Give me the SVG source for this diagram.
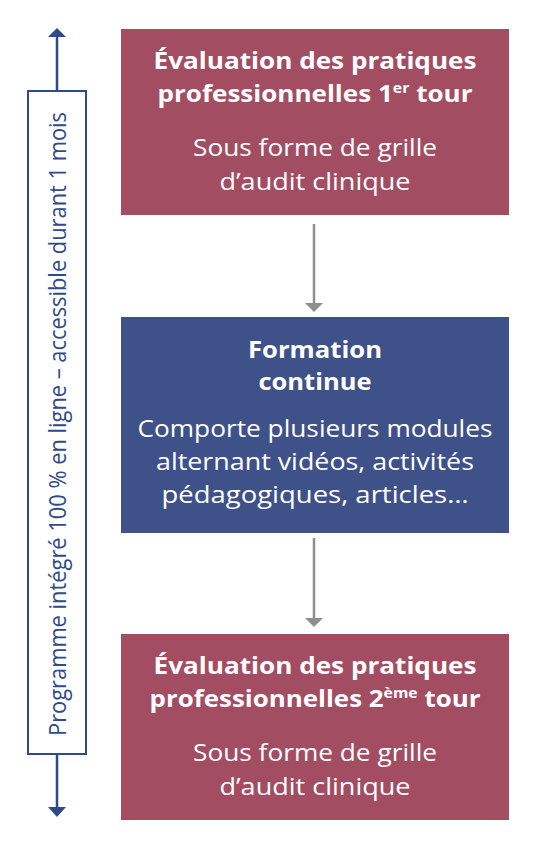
<svg xmlns="http://www.w3.org/2000/svg" width="552" height="868" viewBox="0 0 552 868">
<style>
.maroon{fill:#a34d63}
.blue{fill:#3f5189}
.t{font-family:"Open Sans","Noto Sans","Liberation Sans",sans-serif;fill:#ffffff;text-anchor:middle}
.b{font-weight:700;font-size:23px}
.r{font-weight:400;font-size:24px}
.sup{font-size:14px}
.side{font-family:"Open Sans","Noto Sans","Liberation Sans",sans-serif;font-size:23px;fill:#2f4b8b;text-anchor:middle}
.conn{stroke:#8e8e8e;stroke-width:2.5;fill:none}
.head{fill:#8e8e8e}
.frame{stroke:#2e4a8b;stroke-width:2;fill:#ffffff}
.bl{stroke:#2e4a8b;stroke-width:2.5;fill:none}
.bh{fill:#2e4a8b}
</style>
<g id="side-frame">
<line class="bl" x1="57" y1="91" x2="57" y2="37"/>
<path class="bh" d="M48,37 L66,37 L57,28 Z"/>
<line class="bl" x1="57" y1="754" x2="57" y2="807"/>
<path class="bh" d="M48,807 L66,807 L57,817 Z"/>
<rect class="frame" x="28" y="91" width="58" height="663"/>
<text class="side" transform="translate(66,424) rotate(-90)" x="0" y="0" textLength="624" lengthAdjust="spacingAndGlyphs">Programme intégré 100 % en ligne – accessible durant 1 mois</text>
</g>
<g id="connectors">
<line class="conn" x1="314" y1="224" x2="314" y2="304"/>
<path class="head" d="M305,303 L323,303 L314,312 Z"/>
<line class="conn" x1="314" y1="538" x2="314" y2="619"/>
<path class="head" d="M305,618 L323,618 L314,627 Z"/>
</g>
<g id="node-eval1">
<rect class="maroon" x="121" y="29" width="388" height="186"/>
<text class="t b" x="315" y="69" textLength="323" lengthAdjust="spacingAndGlyphs">Évaluation des pratiques</text>
<text class="t b" x="315" y="102" textLength="315" lengthAdjust="spacingAndGlyphs">professionnelles 1<tspan class="sup" dy="-9">er</tspan><tspan dy="9"> tour</tspan></text>
<text class="t r" x="315" y="156" textLength="244" lengthAdjust="spacingAndGlyphs">Sous forme de grille</text>
<text class="t r" x="315" y="190" textLength="191" lengthAdjust="spacingAndGlyphs">d’audit clinique</text>
</g>
<g id="node-formation">
<rect class="blue" x="121" y="317" width="388" height="216"/>
<text class="t b" x="315" y="358" textLength="134" lengthAdjust="spacingAndGlyphs">Formation</text>
<text class="t b" x="315" y="390" textLength="113" lengthAdjust="spacingAndGlyphs">continue</text>
<text class="t r" x="315" y="437" textLength="355" lengthAdjust="spacingAndGlyphs">Comporte plusieurs modules</text>
<text class="t r" x="315" y="470" textLength="318" lengthAdjust="spacingAndGlyphs">alternant vidéos, activités</text>
<text class="t r" x="315" y="503" textLength="307" lengthAdjust="spacingAndGlyphs">pédagogiques, articles…</text>
</g>
<g id="node-eval2">
<rect class="maroon" x="121" y="634" width="388" height="186"/>
<text class="t b" x="315" y="674" textLength="323" lengthAdjust="spacingAndGlyphs">Évaluation des pratiques</text>
<text class="t b" x="315" y="707" textLength="331" lengthAdjust="spacingAndGlyphs">professionnelles 2<tspan class="sup" dy="-9">ème</tspan><tspan dy="9"> tour</tspan></text>
<text class="t r" x="315" y="761" textLength="244" lengthAdjust="spacingAndGlyphs">Sous forme de grille</text>
<text class="t r" x="315" y="795" textLength="191" lengthAdjust="spacingAndGlyphs">d’audit clinique</text>
</g>
</svg>
